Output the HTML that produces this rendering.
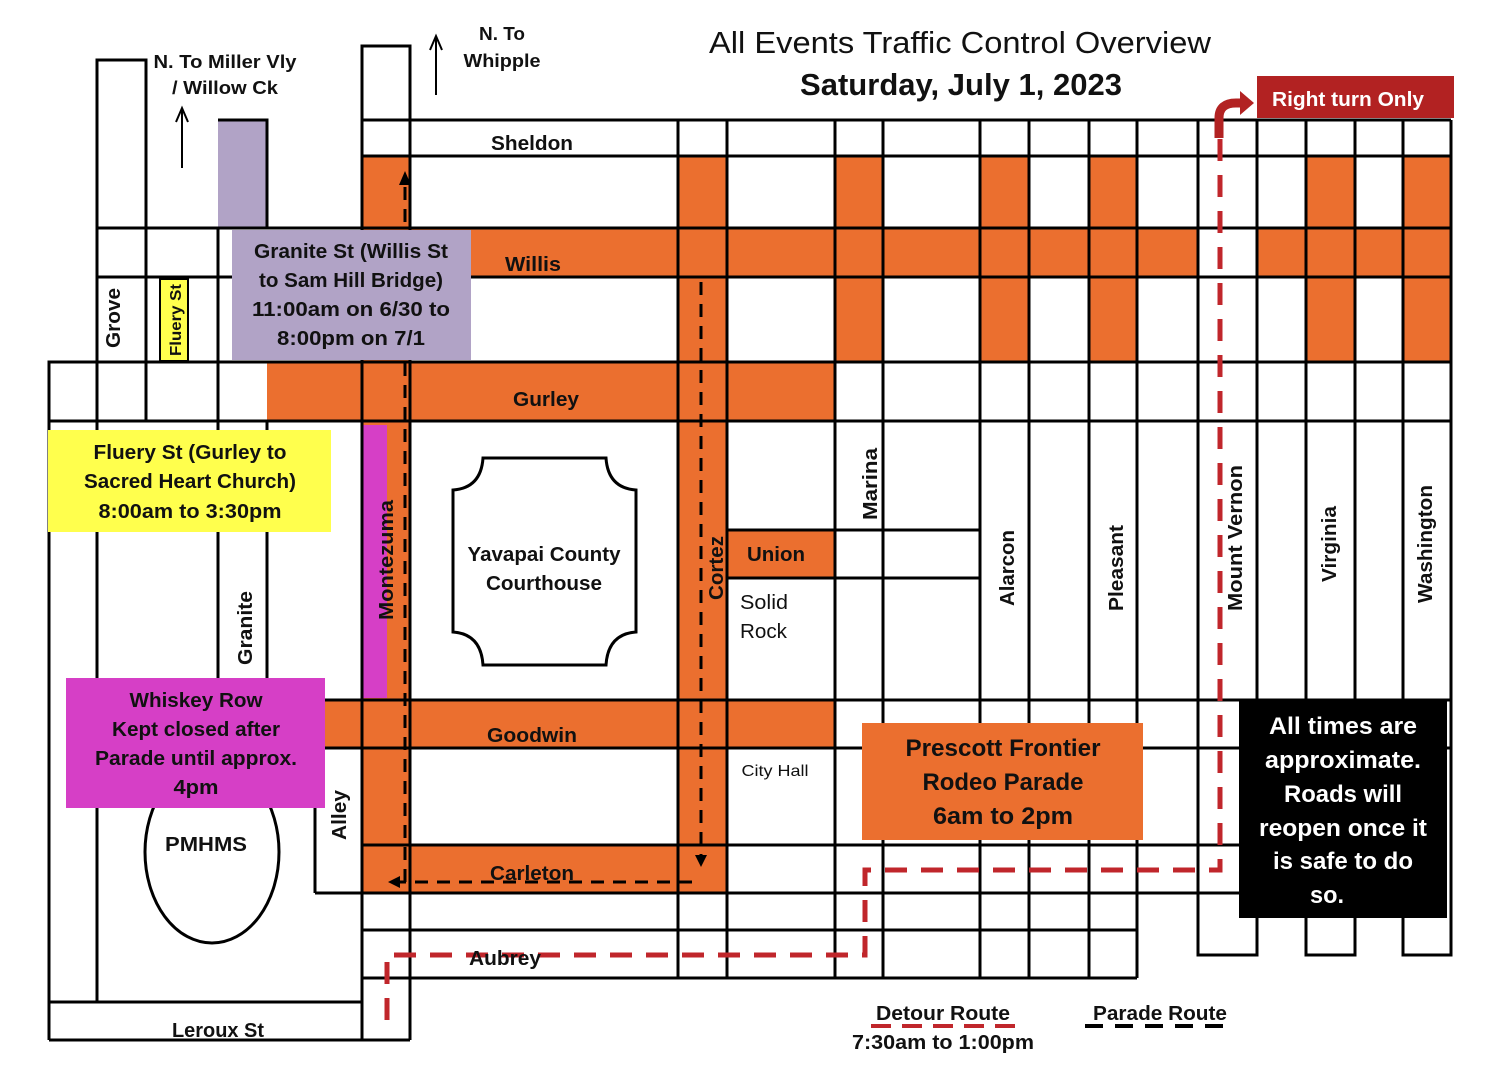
<!DOCTYPE html>
<html><head><meta charset="utf-8"><style>
html,body{margin:0;padding:0;background:#fff}
svg{display:block}
text{font-family:"Liberation Sans",sans-serif;fill:#111}
.b{font-weight:bold}
</style></head><body>
<svg width="1506" height="1076" viewBox="0 0 1506 1076" xmlns="http://www.w3.org/2000/svg">
<rect width="1506" height="1076" fill="#fff"/>
<g fill="#eb6f2f">
<rect x="362" y="156" width="48" height="737"/>
<rect x="678" y="156" width="49" height="737"/>
<rect x="410" y="228" width="788" height="49"/>
<rect x="1257" y="228" width="194" height="49"/>
<rect x="267" y="362" width="568" height="59"/>
<rect x="835" y="156" width="48" height="206"/>
<rect x="980" y="156" width="49" height="206"/>
<rect x="1089" y="156" width="48" height="206"/>
<rect x="1306" y="156" width="49" height="206"/>
<rect x="1403" y="156" width="48" height="206"/>
<rect x="727" y="530" width="108" height="48"/>
<rect x="300" y="700" width="535" height="48"/>
<rect x="362" y="845" width="365" height="48"/>
</g>
<rect x="218" y="120" width="49" height="108" fill="#b1a3c6"/>
<rect x="362" y="425" width="25" height="273" fill="#d63fc6"/>
<g stroke="#000" stroke-width="3" fill="none">
<path d="M97 1002V60H146V421M218 120H267V228M218 228V421M97 228H1451M97 277H1451M49 1040V362H1451M49 421H1451M97 421V1002M218 421V690M267 421V690"/>
<path d="M362 1040V46H410V1040M362 120H1451M362 156H1451M678 120V978M727 120V978M835 120V978M883 120V978M980 120V978M1029 120V978M1089 120V978M1137 120V978"/>
<path d="M1198 120V955H1257V120M1306 120V955H1355V120M1403 120V955H1451V120"/>
<path d="M727 530H980M727 578H980M300 700H1451M315 748H1451M315 748V893M362 845H1240M315 893H1240M362 930H1137M362 978H1137M49 1002H362M49 1040H410"/>
</g>
<ellipse cx="212" cy="852" rx="67" ry="91" fill="#fff" stroke="#000" stroke-width="3"/>
<path d="M483 458H606Q608 488 636 490V632Q608 634 606 665H483Q481 634 453 632V490Q481 488 483 458Z" fill="#fff" stroke="#000" stroke-width="3"/>
<g stroke="#000" stroke-width="3" fill="none" stroke-dasharray="13,9">
<path d="M701 282V855"/>
<path d="M692 882H400"/>
<path d="M405 882V180"/>
</g>
<path d="M695 855h12l-6 12z M400 876v12l-12-6z M399 185h12l-6-14z" fill="#000"/>
<rect x="232" y="230" width="239" height="130" fill="#b1a3c6"/>
<rect x="48" y="430" width="283" height="102" fill="#ffff4d"/>
<rect x="66" y="678" width="259" height="130" fill="#d63fc6"/>
<rect x="862" y="723" width="281" height="117" fill="#eb6f2f"/>
<rect x="1239" y="700" width="208" height="218" fill="#000"/>
<rect x="1257" y="76" width="197" height="42" fill="#b22222"/>
<rect x="160" y="279" width="28" height="82" fill="#ffff4d" stroke="#000" stroke-width="2"/>
<g stroke="#c0262b" stroke-width="5" fill="none" stroke-dasharray="22,14">
<path d="M387 1020V955H865V870H1220V138"/>
</g>
<path d="M1219 138V118Q1219 103 1236 103H1242" stroke="#b22222" stroke-width="9" fill="none"/>
<path d="M1240 91L1254 103L1240 115Z" fill="#b22222"/>
<text x="960" y="53" font-size="31" text-anchor="middle" textLength="502" lengthAdjust="spacingAndGlyphs">All Events Traffic Control Overview</text>
<text class="b" x="961" y="95" font-size="31" text-anchor="middle" textLength="322" lengthAdjust="spacingAndGlyphs">Saturday, July 1, 2023</text>
<text class="b" x="1348" y="106" font-size="20" text-anchor="middle" style="fill:#fff" textLength="152" lengthAdjust="spacingAndGlyphs">Right turn Only</text>
<text class="b" x="225" y="68" font-size="18" text-anchor="middle" textLength="143" lengthAdjust="spacingAndGlyphs">N. To Miller Vly</text>
<text class="b" x="225" y="94" font-size="18" text-anchor="middle" textLength="106" lengthAdjust="spacingAndGlyphs">/ Willow Ck</text>
<text class="b" x="502" y="40" font-size="18" text-anchor="middle" textLength="46" lengthAdjust="spacingAndGlyphs">N. To</text>
<text class="b" x="502" y="67" font-size="18" text-anchor="middle" textLength="77" lengthAdjust="spacingAndGlyphs">Whipple</text>
<g stroke="#000" stroke-width="2"><path d="M182 168V110M436 95V38"/></g>
<path d="M176 122L182 108L188 122M430 50L436 36L442 50" stroke="#000" stroke-width="2" fill="none"/>
<g font-size="20">
<text class="b" x="532" y="150" text-anchor="middle" textLength="82" lengthAdjust="spacingAndGlyphs">Sheldon</text>
<text class="b" x="533" y="271" text-anchor="middle" textLength="56" lengthAdjust="spacingAndGlyphs">Willis</text>
<text class="b" x="546" y="406" text-anchor="middle" textLength="66" lengthAdjust="spacingAndGlyphs">Gurley</text>
<text class="b" x="776" y="561" text-anchor="middle" textLength="58" lengthAdjust="spacingAndGlyphs">Union</text>
<text class="b" x="532" y="742" text-anchor="middle" textLength="90" lengthAdjust="spacingAndGlyphs">Goodwin</text>
<text class="b" x="532" y="880" text-anchor="middle" textLength="84" lengthAdjust="spacingAndGlyphs">Carleton</text>
<text class="b" x="505" y="965" text-anchor="middle" textLength="72" lengthAdjust="spacingAndGlyphs">Aubrey</text>
<text class="b" x="218" y="1037" text-anchor="middle" textLength="92" lengthAdjust="spacingAndGlyphs">Leroux St</text>
<text class="b" x="206" y="851" text-anchor="middle" textLength="82" lengthAdjust="spacingAndGlyphs">PMHMS</text>
</g>
<g font-size="20">
<text class="b" transform="translate(120,318) rotate(-90)" text-anchor="middle" textLength="60" lengthAdjust="spacingAndGlyphs">Grove</text>
<text class="b" transform="translate(181,320) rotate(-90)" text-anchor="middle" font-size="16" textLength="72" lengthAdjust="spacingAndGlyphs">Fluery St</text>
<text class="b" transform="translate(252,628) rotate(-90)" text-anchor="middle" textLength="74" lengthAdjust="spacingAndGlyphs">Granite</text>
<text class="b" transform="translate(393,560) rotate(-90)" text-anchor="middle" textLength="120" lengthAdjust="spacingAndGlyphs">Montezuma</text>
<text class="b" transform="translate(723,568) rotate(-90)" text-anchor="middle" textLength="64" lengthAdjust="spacingAndGlyphs">Cortez</text>
<text class="b" transform="translate(877,484) rotate(-90)" text-anchor="middle" textLength="72" lengthAdjust="spacingAndGlyphs">Marina</text>
<text class="b" transform="translate(1014,568) rotate(-90)" text-anchor="middle" textLength="76" lengthAdjust="spacingAndGlyphs">Alarcon</text>
<text class="b" transform="translate(1123,568) rotate(-90)" text-anchor="middle" textLength="86" lengthAdjust="spacingAndGlyphs">Pleasant</text>
<text class="b" transform="translate(1242,538) rotate(-90)" text-anchor="middle" textLength="146" lengthAdjust="spacingAndGlyphs">Mount Vernon</text>
<text class="b" transform="translate(1336,544) rotate(-90)" text-anchor="middle" textLength="76" lengthAdjust="spacingAndGlyphs">Virginia</text>
<text class="b" transform="translate(1432,544) rotate(-90)" text-anchor="middle" textLength="118" lengthAdjust="spacingAndGlyphs">Washington</text>
<text class="b" transform="translate(346,815) rotate(-90)" text-anchor="middle" textLength="50" lengthAdjust="spacingAndGlyphs">Alley</text>
</g>
<text x="740" y="609" font-size="20" textLength="48" lengthAdjust="spacingAndGlyphs">Solid</text>
<text x="740" y="638" font-size="20" textLength="47" lengthAdjust="spacingAndGlyphs">Rock</text>
<text x="775" y="776" font-size="16" text-anchor="middle" textLength="67" lengthAdjust="spacingAndGlyphs">City Hall</text>
<g font-size="20" text-anchor="middle">
<text class="b" x="544" y="561" textLength="153" lengthAdjust="spacingAndGlyphs">Yavapai County</text>
<text class="b" x="544" y="590" textLength="116" lengthAdjust="spacingAndGlyphs">Courthouse</text>
<text class="b" x="351" y="258" textLength="194" lengthAdjust="spacingAndGlyphs">Granite St (Willis St</text>
<text class="b" x="351" y="287" textLength="184" lengthAdjust="spacingAndGlyphs">to Sam Hill Bridge)</text>
<text class="b" x="351" y="316" textLength="198" lengthAdjust="spacingAndGlyphs">11:00am on 6/30 to</text>
<text class="b" x="351" y="345" textLength="148" lengthAdjust="spacingAndGlyphs">8:00pm on 7/1</text>
<text class="b" x="190" y="459" textLength="193" lengthAdjust="spacingAndGlyphs">Fluery St (Gurley to</text>
<text class="b" x="190" y="488" textLength="212" lengthAdjust="spacingAndGlyphs">Sacred Heart Church)</text>
<text class="b" x="190" y="518" textLength="183" lengthAdjust="spacingAndGlyphs">8:00am to 3:30pm</text>
<text class="b" x="196" y="707" textLength="133" lengthAdjust="spacingAndGlyphs">Whiskey Row</text>
<text class="b" x="196" y="736" textLength="168" lengthAdjust="spacingAndGlyphs">Kept closed after</text>
<text class="b" x="196" y="765" textLength="202" lengthAdjust="spacingAndGlyphs">Parade until approx.</text>
<text class="b" x="196" y="794" textLength="45" lengthAdjust="spacingAndGlyphs">4pm</text>
<text class="b" x="1003" y="756" font-size="24" textLength="195" lengthAdjust="spacingAndGlyphs">Prescott Frontier</text>
<text class="b" x="1003" y="790" font-size="24" textLength="161" lengthAdjust="spacingAndGlyphs">Rodeo Parade</text>
<text class="b" x="1003" y="824" font-size="24" textLength="140" lengthAdjust="spacingAndGlyphs">6am to 2pm</text>
</g>
<g font-size="24" text-anchor="middle">
<text class="b" x="1343" y="734" style="fill:#fff" textLength="148" lengthAdjust="spacingAndGlyphs">All times are</text>
<text class="b" x="1343" y="768" style="fill:#fff" textLength="156" lengthAdjust="spacingAndGlyphs">approximate.</text>
<text class="b" x="1343" y="802" style="fill:#fff" textLength="118" lengthAdjust="spacingAndGlyphs">Roads will</text>
<text class="b" x="1343" y="836" style="fill:#fff" textLength="168" lengthAdjust="spacingAndGlyphs">reopen once it</text>
<text class="b" x="1343" y="869" style="fill:#fff" textLength="140" lengthAdjust="spacingAndGlyphs">is safe to do</text>
<text class="b" x="1327" y="903" style="fill:#fff" textLength="34" lengthAdjust="spacingAndGlyphs">so.</text>
</g>
<g font-size="20" text-anchor="middle">
<text class="b" x="943" y="1020" textLength="134" lengthAdjust="spacingAndGlyphs">Detour Route</text>
<text class="b" x="943" y="1049" textLength="182" lengthAdjust="spacingAndGlyphs">7:30am to 1:00pm</text>
<text class="b" x="1160" y="1020" textLength="134" lengthAdjust="spacingAndGlyphs">Parade Route</text>
</g>
<path d="M871 1026H1017" stroke="#c0262b" stroke-width="4" stroke-dasharray="20,11"/>
<path d="M1085 1026H1230" stroke="#000" stroke-width="4" stroke-dasharray="18,12"/>
</svg>
</body></html>
